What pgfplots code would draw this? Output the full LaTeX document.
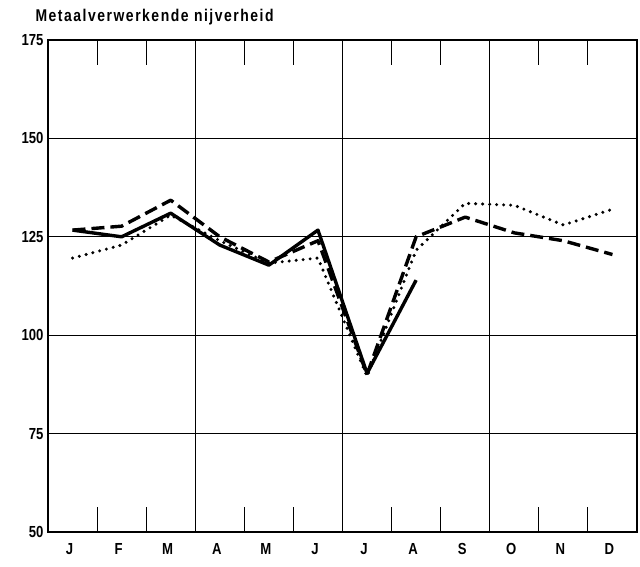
\documentclass[border=0pt]{standalone}
\usepackage{fontspec}
\setmainfont{Liberation Sans}[FakeStretch=0.82]
\usepackage{pgfplots}
\pgfplotsset{compat=1.18}

% three years, months at 0.5 ... 11.5
\pgfplotstableread{
x y
0.5 126.7
1.5 125.0
2.5 131.0
3.5 122.9
4.5 117.8
5.5 126.7
6.5 90.3
7.5 114.0
}\solid
\pgfplotstableread{
x y
0.5 126.7
1.5 127.7
2.5 134.3
3.5 125.0
4.5 118.6
5.5 124.0
6.5 90.0
7.5 125.0
8.5 130.0
9.5 126.0
10.5 124.0
11.5 120.5
}\dashed
\pgfplotstableread{
x y
0.5 119.6
1.5 122.9
2.5 130.5
3.5 124.0
4.5 118.3
5.5 119.6
6.5 89.5
7.5 121.6
8.5 133.5
9.5 133.0
10.5 128.0
11.5 132.0
}\dotted

\begin{document}
\begin{tikzpicture}
\begin{axis}[
  scale only axis,
  width=589pt, height=492pt,
  xmin=0, xmax=12,
  ymin=50, ymax=175,
  axis line style={line width=1.8pt},
  font=\bfseries\fontsize{16}{18}\selectfont,
  /pgf/number format/assume math mode=true,
  ytick={50,75,100,125,150,175},
  yticklabel style={xshift=-1pt},
  ytick style={draw=none},
  ymajorgrids,
  major grid style={line width=0.9pt, black},
  xtick={0.5,1.5,...,11.5},
  xticklabels={J,F,M,A,M,J,J,A,S,O,N,D},
  xticklabel style={yshift=-8pt, xshift=-3pt},
  major x tick style={draw=none},
  minor xtick={1,2,4,5,7,8,10,11},
  minor x tick style={line width=0.9pt, black},
  minor tick length=25pt,
  extra x ticks={3,6,9},
  extra x tick labels={},
  extra x tick style={grid=major},
  title={\fontsize{17}{19}\selectfont\addfontfeature{LetterSpace=9}Metaalverwerkende nijverheid},
  title style={at={(0,1)}, anchor=south west, xshift=-16pt, yshift=5pt},
  clip=false,
]
\addplot[black, line width=3.4pt, line join=round] table {\solid};
\addplot[black, line width=3.4pt, line join=round, dash pattern=on 13pt off 6pt] table {\dashed};
\addplot[black, line width=3.4pt, line cap=round, dash pattern=on 0pt off 7pt] table {\dotted};
\end{axis}
\pgfresetboundingbox
\path (-48pt,-34pt) rectangle (592pt,532pt);
\end{tikzpicture}
\end{document}
